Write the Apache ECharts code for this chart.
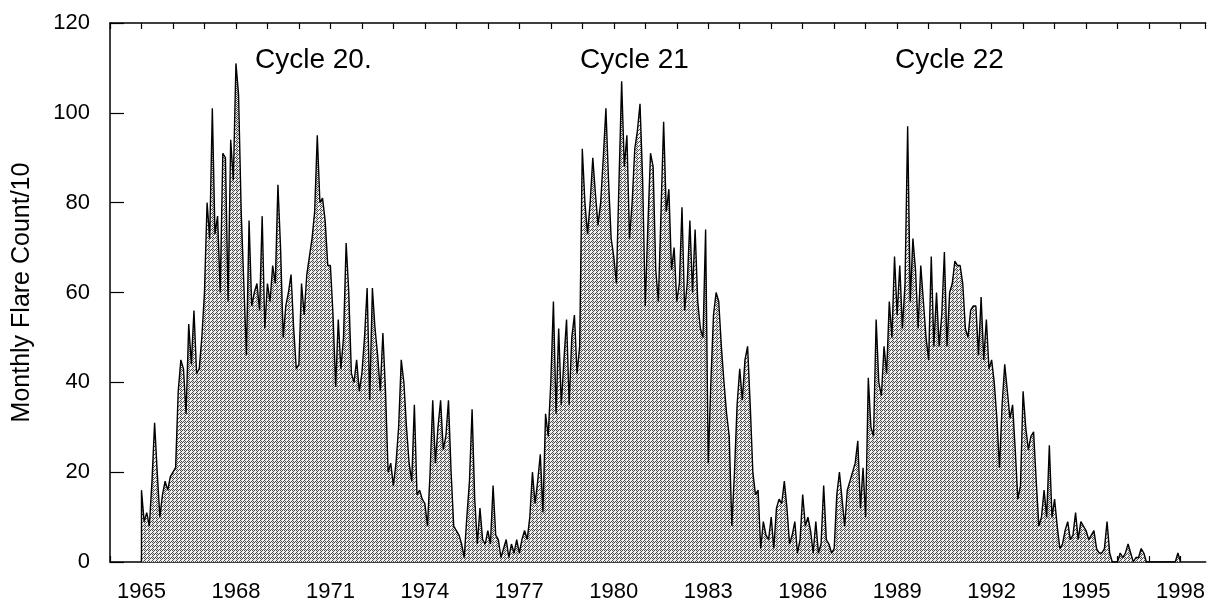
<!DOCTYPE html>
<html>
<head>
<meta charset="utf-8">
<script src="https://cdn.jsdelivr.net/npm/echarts@6/dist/echarts.min.js"></script>
<style>html,body{margin:0;padding:0;background:#fff}#c{width:1208px;height:606px}</style>
</head>
<body>
<div id="c"></div>
<script>
// ---- data (monthly flare count / 10) ----
const cycle20Start = 1965;
const cycle20 = [
  16, 9, 11, 8, 18, 31, 20, 10, 15, 18, 16, 19,        // 1965
  20, 21, 38, 45, 43, 33, 53, 44, 56, 42, 43, 50,      // 1966
  60, 80, 72, 101, 73, 77, 60, 91, 90, 58, 94, 85,     // 1967
  111, 104, 78, 62, 46, 76, 57, 60, 62, 56, 77, 52,    // 1968
  62, 58, 66, 62, 84, 70, 50, 57, 60, 64, 52, 43,      // 1969
  44, 62, 55, 64, 68, 72, 78, 95, 80, 81, 76, 66,      // 1970
  66, 55, 39, 54, 43, 50, 71, 60, 42, 40, 45, 38,      // 1971
  42, 50, 61, 36, 61, 52, 46, 38, 51, 38, 20, 22,      // 1972
  17, 22, 30, 45, 40, 30, 22, 18, 35, 15, 16, 14,      // 1973
  13, 8, 20, 36, 22, 30, 36, 25, 28, 36, 20, 8,        // 1974
  7, 6, 4, 1, 10, 18, 34, 14, 4, 12, 5, 4,             // 1975
  7, 4, 17, 6, 5, 1, 3, 5, 1, 4, 2, 5                  // 1976
];
const cycle21Start = 1977;
const cycle21 = [
  2, 5, 7, 5, 10, 20, 13, 18, 24, 11, 33, 28,          // 1977
  40, 58, 33, 52, 35, 45, 54, 35, 50, 55, 42, 48,      // 1978
  92, 80, 73, 80, 90, 82, 75, 80, 90, 101, 85, 72,     // 1979
  68, 62, 85, 107, 88, 95, 72, 80, 92, 96, 102, 85,    // 1980
  57, 75, 91, 88, 65, 58, 78, 98, 78, 83, 65, 70,      // 1981
  58, 62, 79, 56, 62, 76, 60, 74, 58, 52, 50, 74,      // 1982
  22, 40, 55, 60, 58, 48, 40, 33, 28, 8, 20, 35,       // 1983
  43, 36, 45, 48, 35, 20, 15, 16, 3, 9, 6, 5,          // 1984
  10, 3, 12, 14, 13, 18, 12, 4, 6, 9, 2, 5,            // 1985
  15, 8, 10, 7, 2, 9, 2, 4, 17, 5, 4, 2                // 1986
];
const cycle22Start = 1987;
const cycle22 = [
  3, 15, 20, 14, 8, 16, 18, 20, 22, 27, 12, 21,        // 1987
  10, 41, 30, 28, 54, 40, 37, 48, 42, 58, 50, 68,      // 1988
  55, 66, 52, 62, 97, 58, 72, 65, 52, 66, 58, 50,      // 1989
  45, 68, 48, 60, 48, 55, 69, 48, 60, 62, 67, 66,      // 1990
  66, 62, 52, 50, 56, 57, 57, 46, 59, 45, 54, 43,      // 1991
  45, 40, 32, 21, 35, 44, 38, 32, 35, 25, 14, 17,      // 1992
  38, 30, 25, 28, 29, 18, 8, 10, 16, 10, 26, 10,       // 1993
  14, 8, 3, 4, 7, 9, 5, 6, 11, 5, 9, 8,                // 1994
  7, 5, 6, 7, 3, 2, 2, 3, 9, 2, 0, 0,                  // 1995
  0, 2, 1, 2, 4, 2, 0, 1, 1, 3, 2, 0,                  // 1996
  0, 0, 0, 0, 0, 0, 0, 0, 0, 0, 0, 2,                  // 1997
  0                                                    // 1998
];
const baselineValue = 0;
const yTicks = [0, 20, 40, 60, 80, 100, 120];
const yearLabels = [1965, 1968, 1971, 1974, 1977, 1980, 1983, 1986, 1989, 1992, 1995, 1998];
const cycleLabels = ['Cycle 20.', 'Cycle 21', 'Cycle 22'];
const yName = 'Monthly Flare Count/10';

// ---- build series points ----
const points = [[cycle20Start, baselineValue]];
[[cycle20Start, cycle20], [cycle21Start, cycle21], [cycle22Start, cycle22]].forEach(([s, arr]) => {
  arr.forEach((v, i) => points.push([s + i / 12, v]));
});

// stipple pattern for the area
const pat = document.createElement('canvas');
pat.width = 4; pat.height = 4;
const pc = pat.getContext('2d');
pc.fillStyle = '#efefef'; pc.fillRect(0, 0, 4, 4);
pc.fillStyle = '#4a4a4a';
[[0,0],[1,1],[0,2],[1,3],[3,1],[2,2]].forEach(([x, y]) => pc.fillRect(x, y, 1, 1));

const FONT = '"Liberation Sans", Arial, sans-serif';
const chart = echarts.init(document.getElementById('c'), null, { renderer: 'canvas' });
const xCommon = {
  type: 'value', min: 1964, max: 1998.8, interval: 1,
  axisLine: { show: true, onZero: false, lineStyle: { color: '#000', width: 1.5 } },
  splitLine: { show: false },
  axisTick: { show: true, inside: true, length: 6, lineStyle: { color: '#000', width: 1.2 } }
};
chart.setOption({
  animation: false,
  backgroundColor: '#fff',
  grid: { left: 110, top: 23, width: 1097, height: 539 },
  xAxis: [
    Object.assign({}, xCommon, {
      position: 'bottom',
      axisLabel: {
        show: true, margin: 19, color: '#000', fontSize: 22, fontFamily: FONT,
        showMaxLabel: false,
        formatter: v => (yearLabels.indexOf(Math.round(v)) >= 0 && Math.abs(v - Math.round(v)) < 1e-6 ? String(Math.round(v)) : '')
      }
    }),
    Object.assign({}, xCommon, { position: 'top', axisLabel: { show: false } })
  ],
  yAxis: {
    type: 'value', min: yTicks[0], max: yTicks[yTicks.length - 1], interval: 20,
    name: yName, nameLocation: 'middle', nameGap: 75, nameRotate: 90,
    nameTextStyle: { color: '#000', fontSize: 25, fontFamily: FONT },
    axisLine: { show: true, lineStyle: { color: '#000', width: 1.5 } },
    axisTick: { show: true, inside: true, length: 14, lineStyle: { color: '#000', width: 1.2 } },
    axisLabel: { margin: 20, color: '#000', fontSize: 22, fontFamily: FONT },
    splitLine: { show: false }
  },
  series: [{
    type: 'line', xAxisIndex: 0, data: points, showSymbol: false, symbol: 'none',
    lineStyle: { color: '#000', width: 1.4 },
    areaStyle: { color: { image: pat, repeat: 'repeat' }, opacity: 1 },
    z: 2
  }],
  graphic: [
    { type: 'text', left: 255, top: 46, style: { text: cycleLabels[0], fill: '#000', font: '28px ' + FONT } },
    { type: 'text', left: 580, top: 46, style: { text: cycleLabels[1], fill: '#000', font: '28px ' + FONT } },
    { type: 'text', left: 895, top: 46, style: { text: cycleLabels[2], fill: '#000', font: '28px ' + FONT } }
  ]
});
</script>
</body>
</html>
